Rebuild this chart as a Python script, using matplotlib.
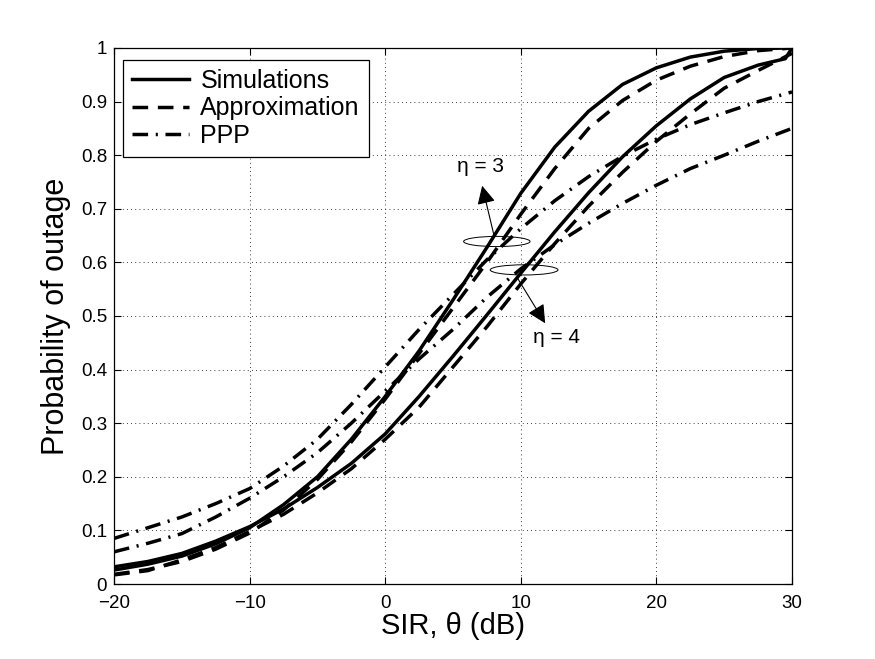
import matplotlib
matplotlib.use('Agg')
import matplotlib.pyplot as plt
from matplotlib.patches import Ellipse

plt.rcParams['font.family'] = ['Liberation Sans', 'DejaVu Sans']

# SIR axis (dB)
sir_db = [-20, -17.5, -15, -12.5, -10, -7.5, -5, -2.5, 0, 2.5, 5, 7.5,
          10, 12.5, 15, 17.5, 20, 22.5, 25, 27.5, 30]
sir_db_sim4 = [-20, -17.5, -15, -12.5, -10, -7.5, -5, -2.5, 0, 2.5, 5, 7.5,
               10, 12.5, 15, 17.5, 20, 22.5, 25, 27.5, 29.5, 30]

# eta = 3
sim_eta3 = [0.026, 0.037, 0.052, 0.075, 0.105, 0.148, 0.2, 0.27, 0.35, 0.435,
            0.53, 0.628, 0.729, 0.815, 0.882, 0.932, 0.963, 0.983, 0.994, 0.999, 1.0]
approx_eta3 = [0.018, 0.027, 0.042, 0.065, 0.095, 0.138, 0.195, 0.265, 0.345, 0.43,
               0.515, 0.6, 0.69, 0.775, 0.85, 0.902, 0.94, 0.966, 0.984, 0.995, 1.0]
ppp_eta3 = [0.085, 0.105, 0.125, 0.15, 0.178, 0.22, 0.27, 0.335, 0.405, 0.475,
            0.54, 0.605, 0.663, 0.715, 0.76, 0.798, 0.83, 0.857, 0.879, 0.9, 0.918]

# eta = 4
sim_eta4 = [0.032, 0.042, 0.057, 0.08, 0.107, 0.14, 0.18, 0.225, 0.28, 0.35,
            0.425, 0.502, 0.58, 0.657, 0.73, 0.797, 0.855, 0.905, 0.945, 0.968, 0.98, 1.0]
approx_eta4 = [0.017, 0.025, 0.045, 0.068, 0.098, 0.13, 0.17, 0.215, 0.27, 0.33,
               0.405, 0.48, 0.56, 0.635, 0.705, 0.768, 0.826, 0.877, 0.925, 0.958, 0.99]
ppp_eta4 = [0.06, 0.076, 0.094, 0.125, 0.16, 0.2, 0.245, 0.3, 0.36, 0.42,
            0.475, 0.535, 0.588, 0.633, 0.673, 0.71, 0.744, 0.775, 0.8, 0.826, 0.85]

legend_labels = ['Simulations', 'Approximation', 'PPP']

lw = 2.5
dash = (0, (4.5, 2.8))
dashdot = (0, (4.5, 2.2, 0.6, 2.2))

fig = plt.figure(figsize=(8.75, 6.59), dpi=100)
ax = fig.add_axes([0.1303, 0.1138, 0.7749, 0.8134])

l1, = ax.plot(sir_db, sim_eta3, color='k', lw=lw, ls='-')
l2, = ax.plot(sir_db, approx_eta3, color='k', lw=lw, ls=dash)
l3, = ax.plot(sir_db, ppp_eta3, color='k', lw=lw, ls=dashdot)
ax.plot(sir_db_sim4, sim_eta4, color='k', lw=lw, ls='-')
ax.plot(sir_db, approx_eta4, color='k', lw=lw, ls=dash)
ax.plot(sir_db, ppp_eta4, color='k', lw=lw, ls=dashdot)

ax.set_xlim(-20, 30)
ax.set_ylim(0, 1)
ax.set_xticks([-20, -10, 0, 10, 20, 30])
ax.set_yticks([i / 10 for i in range(11)])
ax.set_yticklabels(['0', '0.1', '0.2', '0.3', '0.4', '0.5', '0.6', '0.7', '0.8', '0.9', '1'])
ax.tick_params(direction='in', top=True, right=True, labelsize=13.5, length=5, width=0.8)
ax.tick_params(axis='x', pad=8)
ax.tick_params(axis='y', pad=5)
ax.grid(True, color='k', ls=(0, (1, 4)), lw=0.6)
for s in ax.spines.values():
    s.set_linewidth(0.9)

ax.set_xlabel('SIR, \u03b8 (dB)', fontsize=21, labelpad=0)
ax.set_ylabel('Probability of outage', fontsize=22, labelpad=7)

leg = ax.legend([l1, l2, l3], legend_labels, loc='upper left',
                bbox_to_anchor=(0.013, 0.978), borderaxespad=0, fontsize=18,
                handlelength=2.3, labelspacing=0.15, handletextpad=0.45,
                fancybox=False, framealpha=1, edgecolor='k', borderpad=0.35)
leg.get_frame().set_linewidth(0.9)

# eta annotations
ax.add_patch(Ellipse((8.23, 0.639), 4.9, 0.019, fill=False, ec='k', lw=0.7))
ax.add_patch(Ellipse((10.24, 0.586), 5.0, 0.019, fill=False, ec='k', lw=0.7))
ax.annotate('', xy=(7.1, 0.748), xytext=(8.1, 0.642),
            arrowprops=dict(arrowstyle='-|>', color='k', lw=0.8, mutation_scale=28))
ax.annotate('', xy=(11.9, 0.482), xytext=(9.6, 0.577),
            arrowprops=dict(arrowstyle='-|>', color='k', lw=0.8, mutation_scale=28))
ax.text(7.0, 0.778, '\u03b7 = 3', fontsize=15, ha='center', va='center')
ax.text(12.6, 0.459, '\u03b7 = 4', fontsize=15, ha='center', va='center')

fig.savefig('out.png', dpi=100)
